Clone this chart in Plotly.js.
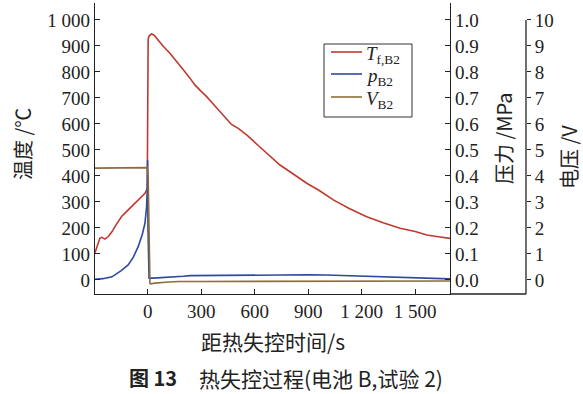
<!DOCTYPE html>
<html>
<head>
<meta charset="utf-8">
<script src="https://cdn.plot.ly/plotly-3.0.1.min.js"></script>
<style>
html,body{margin:0;padding:0;background:#fff;}
#chart{width:583px;height:394px;}
#chart .xtick text, #chart .ytick text, #chart .y2tick text, #chart .y3tick text { font-family: "Liberation Serif", "Times New Roman", serif !important; }
</style>
</head>
<body>
<div id="chart"></div>
<script>
// Temperature T_f,B2 (°C) vs time to thermal runaway (s)
const timeT = [-295,-285,-277,-268,-258,-248,-239,-221,-200,-183,-165,-146,-120,-90,-60,-34,-15,-6,-2,0,3,8,15,22,35,60,90,125,160,200,235,265,300,331,370,405,450,470,508,560,620,680,742,800,892,960,1041,1130,1228,1320,1415,1500,1565,1630,1695];
const tempT = [105,125,141,160,164,160,157,167,185,205,225,244,262,282,300,320,333,345,350,600,925,938,944,946,942,920,897,872,840,808,778,750,725,705,675,647,612,598,583,555,517,480,442,415,372,345,308,275,243,220,199,186,173,166,160];
// Pressure p_B2 (MPa)
const timeP = [-295,-250,-200,-183,-150,-109,-80,-53,-30,-15,-6,-2,0,2,4,8,30,60,100,144,200,238,300,450,600,750,900,1000,1100,1200,1300,1400,1500,1600,1695];
const presP = [0.003,0.005,0.012,0.019,0.035,0.058,0.088,0.128,0.175,0.218,0.28,0.35,0.46,0.2,0.007,0.007,0.007,0.008,0.009,0.010,0.014,0.0165,0.017,0.018,0.019,0.020,0.020,0.019,0.017,0.014,0.012,0.010,0.008,0.006,0.004];
// Voltage V_B2 (V)
const timeV = [-295,-200,-100,-6,-2,3,8,13,20,40,100,173,300,600,1000,1400,1695];
const voltV = [4.30,4.30,4.30,4.30,4.32,4.0,2.0,-0.13,-0.15,-0.12,-0.09,-0.06,-0.06,-0.06,-0.05,-0.05,-0.04];

const seriesNames = ['<i>T</i><sub>f,B2</sub>', '<i>p</i><sub>B2</sub>', '<i>V</i><sub>B2</sub>'];
const seriesColors = ['#c0392f', '#2c4a9e', '#8c6d3c'];

const xTickVals = [0,300,600,900,1200,1500];
const xTickText = ['0','300','600','900','1 200','1 500'];
const yTickVals = [0,100,200,300,400,500,600,700,800,900,1000];
const yTickText = ['0','100','200','300','400','500','600','700','800','900','1 000'];
const pTickVals = [0,0.1,0.2,0.3,0.4,0.5,0.6,0.7,0.8,0.9,1.0];
const pTickText = ['0.0','0.1','0.2','0.3','0.4','0.5','0.6','0.7','0.8','0.9','1.0'];
const vTickVals = [0,1,2,3,4,5,6,7,8,9,10];
const vTickText = ['0','1','2','3','4','5','6','7','8','9','10'];

const serif = '"Liberation Serif", "Times New Roman", serif';
const cjk = '"Noto Sans CJK SC", sans-serif';
const axCol = '#222';
const tf = () => ({family: serif, size: 19, color: '#222'});

const traces = [
  {x: timeT, y: tempT, type: 'scatter', mode: 'lines', name: seriesNames[0],
   line: {color: seriesColors[0], width: 1.6}, yaxis: 'y'},
  {x: timeP, y: presP, type: 'scatter', mode: 'lines', name: seriesNames[1],
   line: {color: seriesColors[1], width: 1.6}, yaxis: 'y2'},
  {x: timeV, y: voltV, type: 'scatter', mode: 'lines', name: seriesNames[2],
   line: {color: seriesColors[2], width: 1.6}, yaxis: 'y3'}
];

const L = 95, R = 526, T = 3, B = 294;
const px = v => (v - L) / (R - L);
const py = v => (B - v) / (B - T);
const xDomEnd = px(450);

// manual legend
const legShapes = [
  {type: 'rect', xref: 'paper', yref: 'paper', x0: px(324), x1: px(412), y0: py(44), y1: py(117),
   line: {color: '#333', width: 1}, fillcolor: '#fff', layer: 'above'}
];
const legRows = [52, 74, 97];
const legAnn = [];
legRows.forEach((ry, i) => {
  legShapes.push({type: 'line', xref: 'paper', yref: 'paper', x0: px(331), x1: px(362), y0: py(ry), y1: py(ry),
                  line: {color: seriesColors[i], width: 1.6}, layer: 'above'});
  legAnn.push({text: seriesNames[i], xref: 'paper', yref: 'paper', x: px(364), y: py(ry + 3), showarrow: false,
               xanchor: 'left', yanchor: 'middle', font: {family: serif, size: 19, color: '#222'}});
});

const layout = {
  width: 583, height: 394,
  margin: {l: L, r: 583 - R, t: T, b: 394 - B, pad: 0},
  paper_bgcolor: '#fff', plot_bgcolor: '#fff',
  font: {family: serif, size: 19, color: '#222'},
  showlegend: false,
  xaxis: {domain: [0, xDomEnd], range: [-295, 1695], tickmode: 'array', tickvals: xTickVals, ticktext: xTickText,
          ticks: 'inside', ticklen: 5, tickcolor: axCol, showline: true, linecolor: axCol, linewidth: 1.3,
          zeroline: false, showgrid: false, tickfont: tf()},
  yaxis: {range: [-54, 1065], tickmode: 'array', tickvals: yTickVals, ticktext: yTickText,
          ticks: 'inside', ticklen: 5, tickcolor: axCol, showline: true, linecolor: axCol, linewidth: 1.3,
          zeroline: false, showgrid: false, tickfont: tf()},
  yaxis2: {overlaying: 'y', side: 'right', anchor: 'x', range: [-0.054, 1.065], tickmode: 'array', tickvals: pTickVals, ticktext: pTickText,
           ticks: 'inside', ticklen: 5, tickcolor: axCol, showline: true, linecolor: axCol, linewidth: 1.3,
           zeroline: false, showgrid: false, tickfont: tf()},
  yaxis3: {overlaying: 'y', side: 'right', anchor: 'free', position: 1, range: [-0.54, 10.65], tickmode: 'array', tickvals: vTickVals, ticktext: vTickText,
           ticks: 'outside', ticklen: 4, tickcolor: axCol, showline: false,
           zeroline: false, showgrid: false, tickfont: tf()},
  shapes: [
    {type: 'line', xref: 'paper', yref: 'paper', x0: xDomEnd, x1: 1, y0: 0, y1: 0, line: {color: axCol, width: 1.3}},
    {type: 'line', xref: 'paper', yref: 'y3', x0: 1, x1: 1, y0: -0.54, y1: 10, line: {color: axCol, width: 1.3}}
  ].concat(legShapes),
  annotations: [
    {text: '温度 /℃', xref: 'paper', yref: 'paper', x: px(22), y: py(144), textangle: -90, showarrow: false,
     xanchor: 'center', yanchor: 'middle', font: {family: cjk, size: 20, color: '#222'}},
    {text: '压力 /MPa', xref: 'paper', yref: 'paper', x: px(503), y: py(138), textangle: -90, showarrow: false,
     xanchor: 'center', yanchor: 'middle', font: {family: cjk, size: 20, color: '#222'}},
    {text: '电压 /V', xref: 'paper', yref: 'paper', x: px(568), y: py(157), textangle: -90, showarrow: false,
     xanchor: 'center', yanchor: 'middle', font: {family: cjk, size: 20, color: '#222'}},
    {text: '距热失控时间/s', xref: 'paper', yref: 'paper', x: px(273), y: py(341), showarrow: false,
     xanchor: 'center', yanchor: 'middle', font: {family: cjk, size: 21, color: '#222'}},
    {text: '<b>图 13</b>', xref: 'paper', yref: 'paper', x: px(153), y: py(378), showarrow: false,
     xanchor: 'center', yanchor: 'middle', font: {family: cjk, size: 20, color: '#222'}},
    {text: '热失控过程(电池 B,试验 2)', xref: 'paper', yref: 'paper', x: px(197), y: py(378), showarrow: false,
     xanchor: 'left', yanchor: 'middle', font: {family: cjk, size: 21, color: '#222'}}
  ].concat(legAnn)
};

Plotly.newPlot('chart', traces, layout, {staticPlot: true, displayModeBar: false});
</script>
</body>
</html>
